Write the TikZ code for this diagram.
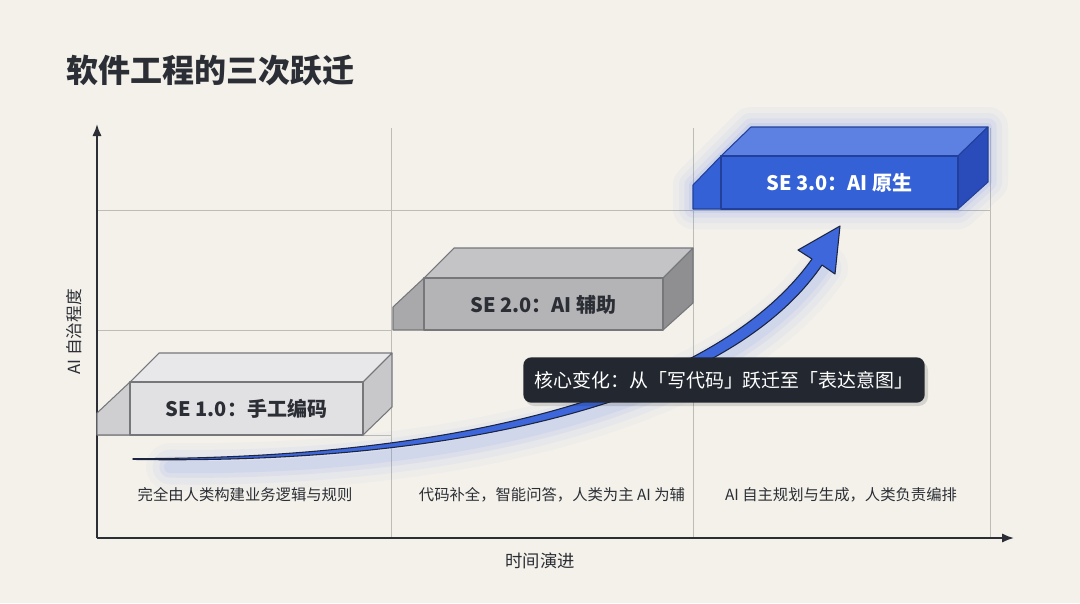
\documentclass[tikz,border=0pt]{standalone}
\usepackage{fontspec}
\setmainfont{Noto Sans CJK SC}
\usetikzlibrary{arrows.meta}
\definecolor{PaperBg}{HTML}{F3F1EA}
\definecolor{AxisInk}{HTML}{2B2E35}
\definecolor{GridGray}{HTML}{BDBCB5}
\definecolor{EdgeGray}{HTML}{76777B}
\definecolor{LightFront}{HTML}{E1E1E3}
\definecolor{LightTop}{HTML}{E8E8EA}
\definecolor{LightSide}{HTML}{C8C8CB}
\definecolor{MidFront}{HTML}{B4B4B7}
\definecolor{MidTop}{HTML}{C4C4C6}
\definecolor{MidSide}{HTML}{8F8F92}
\definecolor{BlueFront}{HTML}{3461D6}
\definecolor{BlueTop}{HTML}{5C81E3}
\definecolor{BlueSide}{HTML}{2A4CBA}
\definecolor{BlueEdge}{HTML}{22409A}
\definecolor{GlowBlue}{HTML}{5B7FF0}
\definecolor{ArrowBlue}{HTML}{3D67DB}
\definecolor{ArrowInk}{HTML}{1C2540}
\definecolor{TipDark}{HTML}{232830}

\begin{document}
\begin{tikzpicture}[x=0.75pt,y=-0.75pt,
  every node/.style={inner sep=0pt,text=AxisInk},
  gridline/.style={GridGray,line width=0.75pt},
  axisline/.style={AxisInk,line width=1.5pt,-{Latex[length=9pt,width=7pt]}},
  blockedge/.style={line width=0.8pt,line join=round},
  boxlabel/.style={font=\bfseries\fontsize{15}{18}\selectfont},
  phase/.style={font=\fontsize{11.5}{14}\selectfont},
  tipbox/.style={fill=TipDark,rounded corners=6pt,minimum width=301pt,minimum height=34pt,
    text=white,font=\fontsize{14.2}{17}\selectfont}]
\fill[PaperBg] (0,0) rectangle (1080,603);
\useasboundingbox (0,0) rectangle (1080,603);

% title
\node[anchor=west,font=\bfseries\fontsize{24}{28}\selectfont] (title) at (66,70) {软件工程的三次跃迁};

% grid
\draw[gridline] (391,128) -- (391,538) (693,128) -- (693,538) (990,128) -- (990,538);
\draw[gridline] (97,210) -- (990,210) (97,330) -- (391,330) (97,435) -- (391,435);

% axes
\coordinate (origin) at (97,538);
\coordinate (ytop) at (97,124);
\coordinate (xend) at (1014,538);
\draw[axisline] (origin) -- (ytop);
\draw[axisline] (origin) -- (xend);
\node[rotate=90,font=\fontsize{12.5}{15}\selectfont] (ylab) at (74,332) {AI 自治程度};
\node[font=\fontsize{13}{16}\selectfont] (xlab) at (540,561) {时间演进};

% SE 1.0
\filldraw[blockedge,draw=EdgeGray,fill=LightFront!92!black] (97,435) -- (97,413) -- (130,382) -- (130,435) -- cycle;
\filldraw[blockedge,draw=EdgeGray,fill=LightTop] (130,382) -- (159,353) -- (392,353) -- (363,382) -- cycle;
\filldraw[blockedge,draw=EdgeGray,fill=LightSide] (363,382) -- (392,353) -- (392,407) -- (363,435) -- cycle;
\filldraw[blockedge,draw=EdgeGray,fill=LightFront] (130,382) rectangle (363,435);
\node[boxlabel] (se1) at (246.5,409) {SE 1.0：手工编码};

% SE 2.0
\filldraw[blockedge,draw=EdgeGray,fill=MidFront!94!black] (393,330) -- (393,307) -- (424,278) -- (424,330) -- cycle;
\filldraw[blockedge,draw=EdgeGray,fill=MidTop] (424,278) -- (454,248) -- (693,248) -- (663,278) -- cycle;
\filldraw[blockedge,draw=EdgeGray,fill=MidSide] (663,278) -- (693,248) -- (693,303) -- (663,330) -- cycle;
\filldraw[blockedge,draw=EdgeGray,fill=MidFront] (424,278) rectangle (663,330);
\node[boxlabel] (se2) at (543.5,305) {SE 2.0：AI 辅助};

% SE 3.0 with glow
\foreach \w/\o in {30/0.04,21/0.05,13/0.07,6/0.1}
  \draw[GlowBlue,line width=\w pt,opacity=\o,line join=round]
    (693,209) -- (693,185) -- (751,127) -- (988,127) -- (988,182) -- (958,209) -- cycle;
\filldraw[blockedge,draw=BlueEdge,fill=BlueFront] (693,209) -- (693,185) -- (721,156) -- (721,209) -- cycle;
\filldraw[blockedge,draw=BlueEdge,fill=BlueTop] (721,156) -- (751,127) -- (988,127) -- (958,156) -- cycle;
\filldraw[blockedge,draw=BlueEdge,fill=BlueSide] (958,156) -- (988,127) -- (988,182) -- (958,209) -- cycle;
\filldraw[blockedge,draw=BlueEdge,fill=BlueFront] (721,156) rectangle (958,209);
\node[boxlabel,text=white] (se3) at (839.5,183) {SE 3.0：AI 原生};

% rising arrow, glow first
\foreach \w/\o in {36/0.03,26/0.05,16/0.07,9/0.08}
  \draw[GlowBlue,line width=\w pt,opacity=\o,line cap=round]
    (170,467) .. controls (450,471) and (726,408) .. (824,268);
\filldraw[fill=ArrowBlue,draw=ArrowInk,line width=0.8pt,line join=round]
  (133,458.6) .. controls (450,459) and (714,396) .. (812,259)
  -- (798,250) -- (840,226) -- (835,274) -- (822,265)
  .. controls (727,404) and (450,465) .. (133,459.4) -- cycle;

% key change
\fill[black,opacity=0.12,rounded corners=7pt] (525,361) rectangle (928,406);
\node[tipbox] (shift) at (724,380) {核心变化：从「写代码」跃迁至「表达意图」};

% phase notes
\node[phase] (p1) at (245,495) {完全由人类构建业务逻辑与规则};
\node[phase] (p2) at (552,495) {代码补全，智能问答，人类为主 AI 为辅};
\node[phase] (p3) at (841,495) {AI 自主规划与生成，人类负责编排};
\end{tikzpicture}
\end{document}
